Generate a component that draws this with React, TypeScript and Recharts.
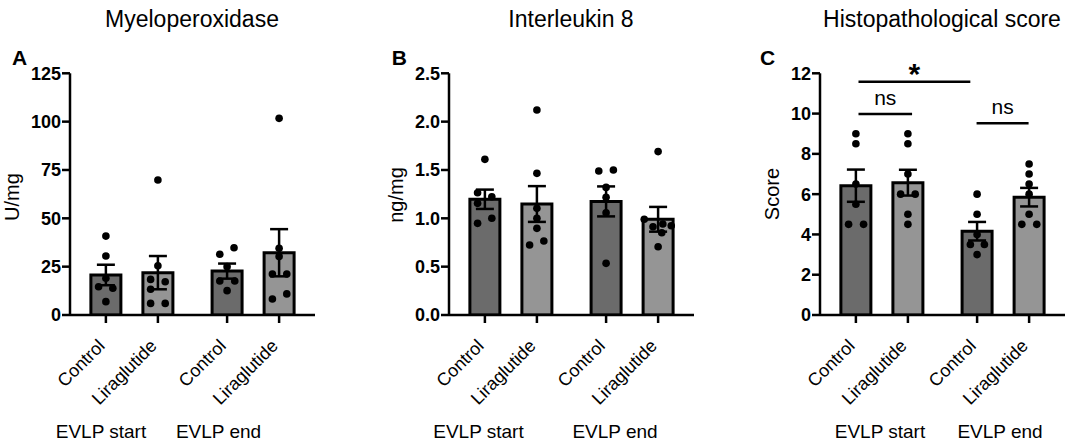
import React from 'react';
import { ComposedChart, Bar, Cell, ErrorBar, Scatter, XAxis, YAxis, ReferenceLine } from 'recharts';

const FONT = '"Liberation Sans", Arial, Helvetica, sans-serif';

// ---- categories / labels ----
const groupLabels = ['Control', 'Liraglutide', 'Control', 'Liraglutide'];
const phaseLabels = ['EVLP start', 'EVLP end'];
const groupPositions = [1, 2, 3.33, 4.33];
const panelTitles = ['Myeloperoxidase', 'Interleukin 8', 'Histopathological score'];
const panelLetters = ['A', 'B', 'C'];
const yLabels = ['U/mg', 'ng/mg', 'Score'];

// ---- A: Myeloperoxidase (U/mg) ----
const mpoMean = [20.7, 21.9, 22.7, 32.2];
const mpoSem = [5.3, 8.6, 3.9, 12.2];
const mpoDots = [
  [40.8, 30.5, 19.0, 14.6, 13.8, 6.9],
  [69.8, 25.5, 18.4, 17.2, 13.3, 6.0, 6.0],
  [31.4, 34.8, 25.0, 17.6, 17.6, 12.6],
  [101.7, 34.5, 30.2, 21.2, 21.2, 8.3, 10.9],
];
const mpoJitter = [
  [0, 0, 0, -1, 0.95, 0],
  [0, 0, -1, 1, -1, -1, 1],
  [-1, 0.95, 0, -1, 1.05, 0],
  [0, 0, 0, -0.92, 1.05, -0.92, 1.05],
];
const mpoTicks = [0, 25, 50, 75, 100, 125];

// ---- B: Interleukin 8 (ng/mg) ----
const il8Mean = [1.197, 1.148, 1.175, 0.99];
const il8Sem = [0.1, 0.185, 0.155, 0.128];
const il8Dots = [
  [1.61, 1.265, 1.223, 1.155, 1.0, 0.948],
  [2.12, 1.465, 1.103, 1.0, 0.896, 0.766, 0.724],
  [1.489, 1.5, 1.32, 1.217, 1.058, 0.534],
  [1.69, 0.99, 0.913, 0.941, 0.923, 0.851, 0.706],
];
const il8Jitter = [
  [0, -1, 0.95, -1, 0.95, -1],
  [0, 0, 0, 0, 0, 0.95, -1],
  [-1, 1, 0, 0, 0, 0],
  [0, -1.9, -0.7, 0.65, 1.8, 0.5, 0],
];
const il8Ticks = [0, 0.5, 1.0, 1.5, 2.0, 2.5];

// ---- C: Histopathological score ----
const histoMean = [6.42, 6.57, 4.16, 5.85];
const histoSem = [0.8, 0.64, 0.46, 0.46];
const histoDots = [
  [9, 8.5, 6.5, 5.5, 4.5, 4.5],
  [9, 8.5, 7, 6, 6, 5, 4.5],
  [6, 5, 4, 3.5, 3.5, 3],
  [7.5, 7, 6.5, 6, 5, 4.5, 4.5],
];
const histoJitter = [
  [0, 0, 0, 0, -1, 1.05],
  [0, 0, 0, -1, 1, 0, 0],
  [0, 0, 0, -0.92, 1, 0],
  [0, 0, 0, 0, 0, -1, 1.05],
];
const histoTicks = [0, 2, 4, 6, 8, 10, 12];
const histoSig = [
  { from: 1.05, to: 3.2, y: 11.58, label: '*' },
  { from: 1.05, to: 2.08, y: 9.98, label: 'ns' },
  { from: 3.32, to: 4.32, y: 9.52, label: 'ns' },
];

const barColors = ['#6b6b6b', '#959595', '#6b6b6b', '#959595'];
const AXIS = { stroke: '#000', strokeWidth: 2.5 };

const XTick = (props: any) => {
  const { x, y, payload } = props;
  const idx = groupPositions.indexOf(payload.value);
  const ty = y + 22;
  return (
    <text
      x={x}
      y={ty}
      transform={`rotate(-45, ${x}, ${ty})`}
      textAnchor="end"
      fontSize={18}
      fontFamily={FONT}
      fill="#000"
    >
      {groupLabels[idx] ?? ''}
    </text>
  );
};

const DotShape = (props: any) => {
  const j = props?.payload?.j ?? 0;
  return <circle cx={props.cx + j * 7.3} cy={props.cy} r={3.8} fill="#000" />;
};

type PanelProps = {
  left: number;
  means: number[];
  sems: number[];
  dots: number[][];
  jitter: number[][];
  ticks: number[];
  fmt?: (v: number) => string;
  sig?: { from: number; to: number; y: number; label: string }[];
};

function Panel({ left, means, sems, dots, jitter, ticks, fmt, sig }: PanelProps) {
  const barData = groupPositions.map((x, i) => ({ x, y: means[i], sem: sems[i] }));
  const dotData = dots.flatMap((vals, g) =>
    vals.map((v, k) => ({ x: groupPositions[g], y: v, j: jitter[g][k] }))
  );
  const yMax = ticks[ticks.length - 1];
  return (
    <div style={{ position: 'absolute', left, top: 0 }}>
      <ComposedChart
        width={320}
        height={443}
        data={barData}
        margin={{ top: 73.3, right: 5, bottom: 0, left: 0 }}
      >
        <XAxis
          dataKey="x"
          type="number"
          domain={[0.31, 5.02]}
          ticks={groupPositions}
          interval={0}
          allowDataOverflow
          height={128}
          tickSize={8}
          tick={<XTick />}
          axisLine={AXIS}
          tickLine={AXIS}
        />
        <YAxis
          dataKey="y"
          type="number"
          domain={[0, yMax]}
          ticks={ticks}
          interval={0}
          allowDataOverflow
          width={70}
          tickSize={8}
          tickMargin={1}
          tickFormatter={fmt}
          tick={{ fill: '#000', fontSize: 18, fontWeight: 700, fontFamily: FONT }}
          axisLine={AXIS}
          tickLine={AXIS}
        />
        <Bar dataKey="y" barSize={30} stroke="#000" strokeWidth={3} isAnimationActive={false}>
          {barData.map((_, i) => (
            <Cell key={i} fill={barColors[i]} />
          ))}
          <ErrorBar dataKey="sem" width={9} stroke="#000" strokeWidth={2.5} direction="y" isAnimationActive={false} />
        </Bar>
        <Scatter data={dotData} dataKey="y" isAnimationActive={false} shape={DotShape} />
        {sig &&
          sig.map((s, i) => (
            <ReferenceLine
              key={i}
              segment={[
                { x: s.from, y: s.y },
                { x: s.to, y: s.y },
              ]}
              stroke="#000"
              strokeWidth={2.5}
              ifOverflow="visible"
              label={
                s.label === '*'
                  ? { value: s.label, position: 'top', offset: -2, fontSize: 30, fontWeight: 700, fill: '#000', fontFamily: FONT }
                  : { value: s.label, position: 'top', offset: 9, fontSize: 21, fill: '#000', fontFamily: FONT }
              }
            />
          ))}
      </ComposedChart>
    </div>
  );
}

export default function App() {
  const titleX = [192, 571, 942];
  const letterX = [12, 391.7, 760];
  const yLabelPos = [
    [19, 197],
    [403.3, 195],
    [779.3, 194],
  ];
  const phaseX = [
    [101, 218.5],
    [478.5, 615],
    [880, 1000],
  ];
  return (
    <div
      style={{
        position: 'absolute',
        left: 0,
        top: 0,
        width: 1067,
        height: 443,
        overflow: 'hidden',
        background: '#fff',
        fontFamily: FONT,
      }}
    >
      <Panel left={0} means={mpoMean} sems={mpoSem} dots={mpoDots} jitter={mpoJitter} ticks={mpoTicks} />
      <Panel
        left={379}
        means={il8Mean}
        sems={il8Sem}
        dots={il8Dots}
        jitter={il8Jitter}
        ticks={il8Ticks}
        fmt={(v: number) => v.toFixed(1)}
      />
      <Panel
        left={750}
        means={histoMean}
        sems={histoSem}
        dots={histoDots}
        jitter={histoJitter}
        ticks={histoTicks}
        sig={histoSig}
      />
      <svg
        width={1067}
        height={443}
        style={{ position: 'absolute', left: 0, top: 0, pointerEvents: 'none' }}
      >
        {panelTitles.map((t, i) => (
          <text key={t} x={titleX[i]} y={27} textAnchor="middle" fontSize={23} fontFamily={FONT} fill="#000">
            {t}
          </text>
        ))}
        {panelLetters.map((t, i) => (
          <text key={t} x={letterX[i]} y={65} fontSize={21} fontWeight={700} fontFamily={FONT} fill="#000">
            {t}
          </text>
        ))}
        {yLabels.map((t, i) => (
          <text
            key={t}
            x={yLabelPos[i][0]}
            y={yLabelPos[i][1]}
            transform={`rotate(-90, ${yLabelPos[i][0]}, ${yLabelPos[i][1]})`}
            textAnchor="middle"
            fontSize={20}
            fontFamily={FONT}
            fill="#000"
          >
            {t}
          </text>
        ))}
        {phaseX.map((xs, p) =>
          xs.map((x, k) => (
            <text key={`${p}-${k}`} x={x} y={438} textAnchor="middle" fontSize={19} fontFamily={FONT} fill="#000">
              {phaseLabels[k]}
            </text>
          ))
        )}
      </svg>
    </div>
  );
}
